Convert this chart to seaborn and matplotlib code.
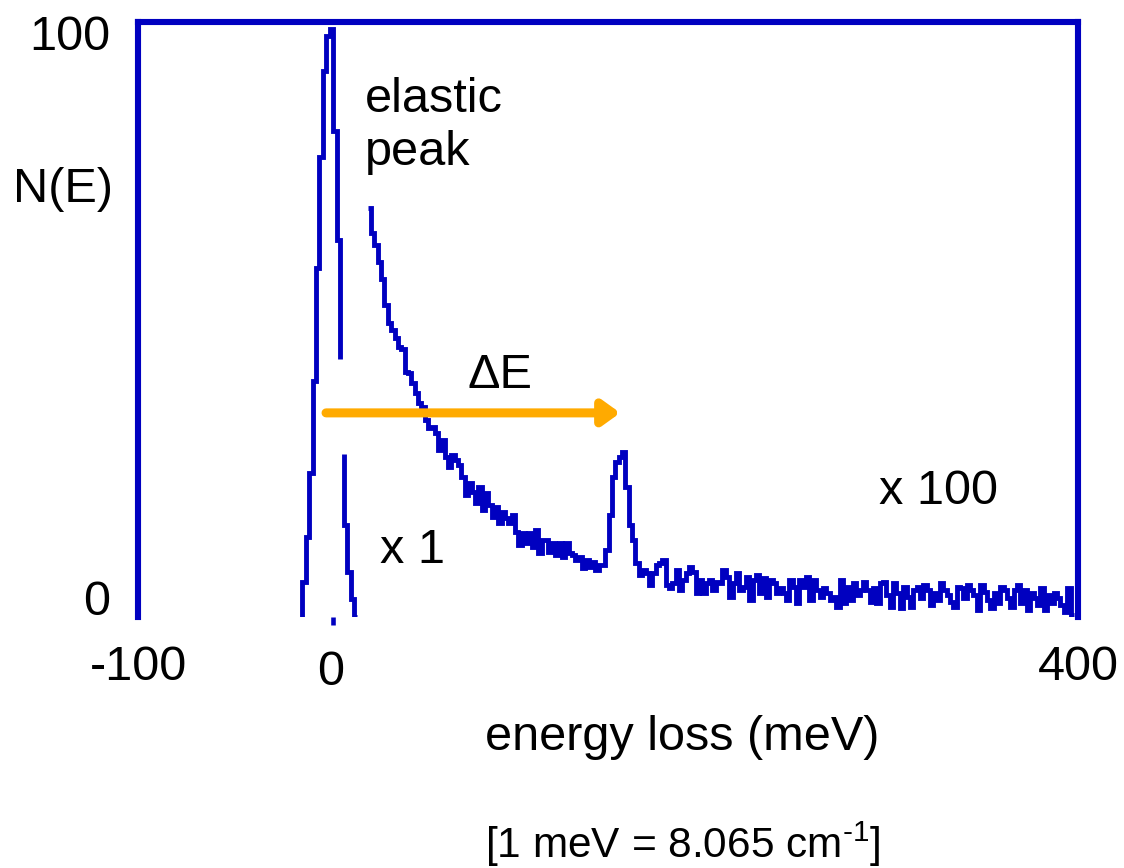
import numpy as np
import matplotlib
matplotlib.use('Agg')
import matplotlib.pyplot as plt
import seaborn as sns

sns.set_theme(style='white')
plt.rcParams['font.family'] = ['Liberation Sans', 'DejaVu Sans']
plt.rcParams['mathtext.fontset'] = 'custom'
plt.rcParams['mathtext.rm'] = 'Liberation Sans'

BLUE = '#0000C0'
ORANGE = '#FFAA00'

# elastic peak, drawn x 1 (bins of 1.84 meV from -12.7 meV)
elastic_start = -12.7
elastic_step = 1.84
elastic_n = np.array([5.9, 13.4, 24.2, 39.7, 58.7, 77.3, 91.8, 97.7,
                      98.9, 81.6, 63.3, np.nan, 15.5, 7.5, 3.0, 0.0])
# piece of the falling edge that is left out in the original
elastic_gap = (27.4, 43.4)

# loss region, drawn x 100 (bins of 1.78 meV from 22.2 meV)
loss_start = 22.2
loss_step = 1.78
loss_n = np.array([
    # decay of the elastic tail
    68.7, 64.5, 62.5, 59.7, 56.8, 52.4, 49.4, 48.2, 46.9, 45.4,
    45.0, 41.2, 41.0, 39.3, 37.6, 36.0, 35.3, 33.1, 31.8, 31.9,
    30.9, 28.1, 29.7, 26.9, 25.2, 27.2, 26.4, 25.5, 23.5, 20.5,
    22.5, 21.0, 19.2, 21.8, 18.0, 20.8, 18.8, 16.8, 18.5, 15.8,
    17.6, 16.6, 15.8, 17.1, 14.3, 12.1, 14.1, 12.4, 14.1, 11.8,
    14.6, 10.8, 12.9, 12.9, 10.9, 12.4, 10.4, 12.4, 10.1, 12.4,
    10.8, 10.4, 9.6, 10.1, 8.2, 9.6, 8.4, 9.2, 7.9, 8.7,
    8.7, 11.3, 17.1, 23.5, 26.1, 26.9,
    # loss peak and flat part
    27.7, 21.8, 15.5, 12.9, 9.1, 7.1, 7.9, 7.4, 5.4, 7.4,
    8.7, 9.1, 9.6, 5.4, 4.9, 5.7, 7.9, 4.5, 6.2, 7.4,
    8.4, 7.6, 4.0, 6.2, 4.0, 5.7, 6.2, 4.5, 5.9, 5.7,
    7.9, 6.7, 3.4, 5.7, 7.4, 4.5, 5.0, 6.7, 2.9, 6.2,
    7.1, 4.0, 6.6, 3.4, 6.2, 5.7, 4.0, 4.9, 4.0, 2.9,
    6.2, 5.0, 2.4, 6.2, 5.0, 6.7, 2.9, 6.2, 4.5, 3.4,
    4.9, 4.0, 2.9, 3.4, 1.7, 6.2, 2.4, 5.0, 2.9, 5.7,
    3.7, 4.5, 5.9, 4.5, 2.5, 4.9, 2.4, 5.7, 5.9, 3.7,
    1.7, 5.7, 4.0, 1.5, 5.0, 3.4, 1.7, 4.5, 5.0, 3.2,
    5.4, 4.5, 2.0, 4.0, 2.9, 5.7, 4.5, 3.7, 2.5, 1.7,
    5.0, 4.9, 3.2, 5.4, 4.5, 3.7, 1.2, 5.4, 4.2, 2.9,
    1.5, 4.0, 2.4, 5.0, 4.5, 3.2, 1.7, 4.5, 5.4, 2.4,
    4.5, 1.2, 4.0, 3.2, 2.0, 4.9, 1.2, 3.7, 2.4, 4.0,
    3.2, 2.0, 0.8, 4.9, 0.3,
])

# Delta E arrow: from the elastic peak to the loss peak
arrow_from, arrow_to, arrow_level = 0.0, 156.5, 34.3

x_ticks = [-100, 0, 400]
x_tick_labels = ['-100', '0', '400']


def stair_path(edges, vals, base):
    x = np.repeat(edges, 2)
    y = np.r_[base, np.repeat(vals, 2), base]
    return x, y


def nan_split(x, y):
    cut = np.flatnonzero(np.isnan(y))
    return zip(np.split(x, cut), np.split(y, cut))


fig = plt.figure(figsize=(11.24, 8.68), dpi=100)
ax = fig.add_axes([0.1228, 0.2892, 0.8363, 0.6855])

line_kw = dict(color=BLUE, linewidth=3.5, estimator=None, sort=False,
               solid_joinstyle='miter', solid_capstyle='butt', ax=ax)

# elastic peak with the hidden part of its right edge
el_edges = elastic_start + elastic_step * np.arange(len(elastic_n) + 1)
ex, ey = stair_path(el_edges, elastic_n, 0.0)
k = int(np.flatnonzero(np.isnan(elastic_n))[0])
ey[2 * k + 1], ey[2 * k + 2] = elastic_gap[1], elastic_gap[0]
ex = np.insert(ex, 2 * k + 2, np.nan)
ey = np.insert(ey, 2 * k + 2, np.nan)
for sx, sy in nan_split(ex, ey):
    sx, sy = sx[~np.isnan(sy)], sy[~np.isnan(sy)]
    sns.lineplot(x=sx, y=sy, **line_kw)

# x 100 part
loss_edges = loss_start + loss_step * np.arange(len(loss_n) + 1)
sns.lineplot(x=loss_edges, y=np.r_[loss_n, loss_n[-1]],
             drawstyle='steps-post', **line_kw)

ax.annotate('', xy=(arrow_to, arrow_level), xytext=(arrow_from, arrow_level),
            arrowprops=dict(arrowstyle='-|>,head_length=1.0,head_width=0.72',
                            color=ORANGE, lw=6.5, shrinkA=0, shrinkB=0,
                            mutation_scale=10))

ax.set_xlim(-100, 400)
ax.set_ylim(0, 100)
ax.set_facecolor('white')
for side in ['left', 'top', 'right']:
    ax.spines[side].set_color(BLUE)
    ax.spines[side].set_linewidth(4.4)
ax.spines['bottom'].set_visible(False)

ax.set_yticks([])
ax.set_xticks([3.6], [''])
ax.tick_params(axis='x', bottom=True, length=6, width=3.3, color=BLUE,
               direction='out')
ax.set_xlabel('')
ax.set_ylabel('')

txt = dict(fontsize=35, color='black', va='baseline')
for xv, lab in zip(x_ticks, x_tick_labels):
    yv = -11.4 if lab == '0' else -10.6
    xv = 2.7 if lab == '0' else xv
    ax.text(xv, yv, lab, ha='center', **txt)
ax.text(-114.9, 95.3, '100', ha='right', **txt)
ax.text(-114.9, 0.3, '0', ha='right', **txt)
ax.text(-113.3, 69.8, 'N(E)', ha='right', **txt)

ax.text(20.6, 84.9, 'elastic', **txt)
ax.text(20.6, 76.0, 'peak', **txt)
ax.text(92.3, 38.5, '\u0394E', ha='center', **txt)
ax.text(28.6, 9.1, 'x 1', **txt)
ax.text(294.3, 19.0, 'x 100', **txt)

ax.text(189.5, -22.4, 'energy loss (meV)', ha='center', **txt)
ax.text(189.9, -40.5, '[1 meV = 8.065 cm$^{\\mathregular{\u2010}1}$]',
        ha='center', fontsize=30.5, color='black', va='baseline')

fig.savefig('out.png', dpi=100, facecolor='white')
